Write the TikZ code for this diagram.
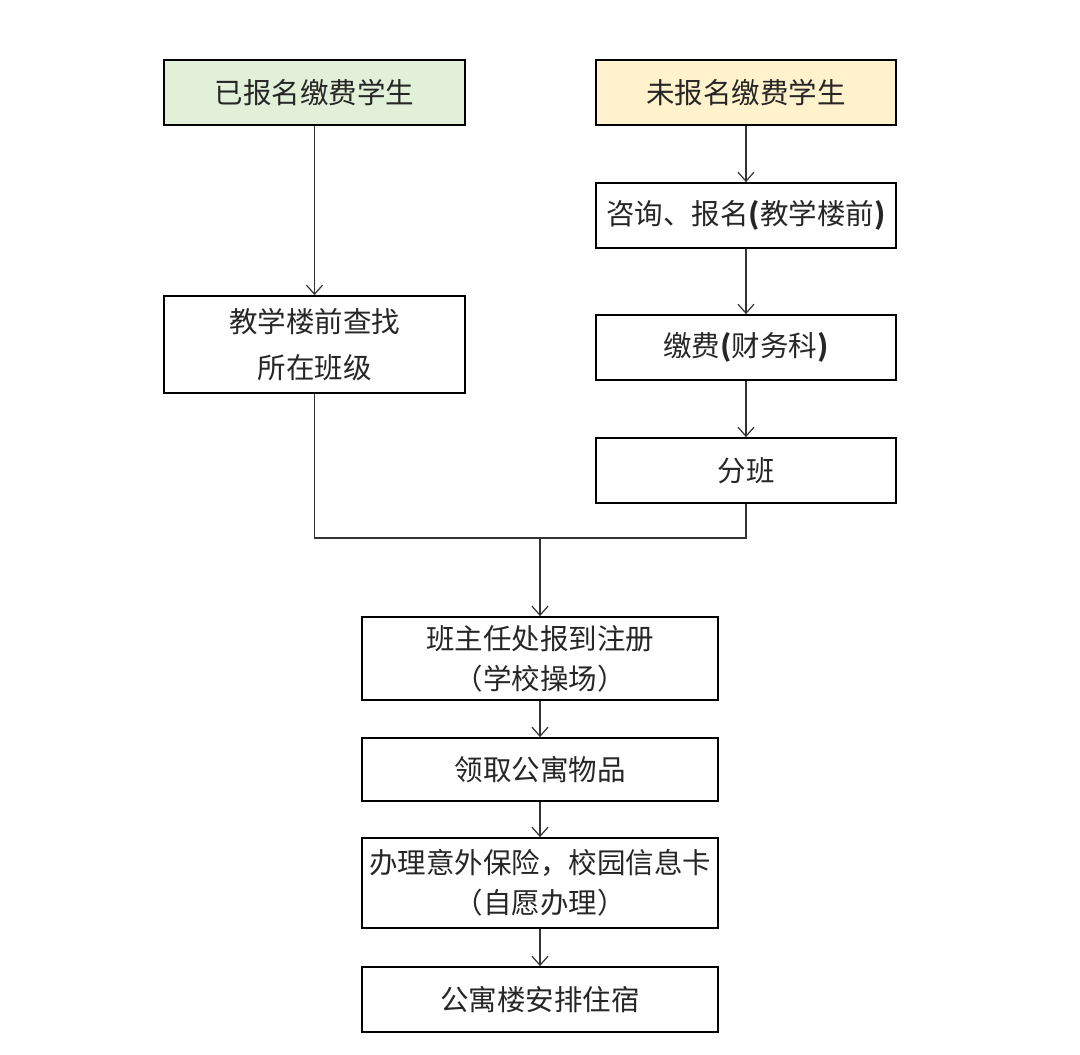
\documentclass[tikz,border=0pt]{standalone}
\usepackage{fontspec}
\setmainfont{Noto Sans CJK SC}
\usetikzlibrary{arrows.meta}
\definecolor{greenfill}{HTML}{E2EFD9}
\definecolor{yellowfill}{HTML}{FFF2CC}
\begin{document}
\begin{tikzpicture}[x=1pt,y=1pt,
  box/.style={draw=black,line width=1.8pt,inner sep=0pt,align=center,font=\fontsize{28.5}{40}\selectfont,text=black!85},
  conn/.style={line width=1.2pt,draw=black!80,-{Straight Barb[length=9pt,width=16pt,line width=1.2pt]}},
  plain/.style={line width=1.2pt,draw=black!80}]
\useasboundingbox (0,0) rectangle (1080,-1055);
% top boxes
\node[box,fill=greenfill,minimum width=301pt,minimum height=65pt] (A) at (314.5,-92.5) {已报名缴费学生};
\node[box,fill=yellowfill,minimum width=300pt,minimum height=65pt] (B) at (746,-92.5) {未报名缴费学生};
\node[box,minimum width=300pt,minimum height=65pt] (C) at (746,-215.5) {咨询、报名\textbf{(}教学楼前\textbf{)}};
\node[box,minimum width=300pt,minimum height=65pt] (D) at (746,-347.5) {缴费\textbf{(}财务科\textbf{)}};
\node[box,minimum width=300pt,minimum height=65pt] (E) at (746,-470.5) {分班};
\node[box,minimum width=301pt,minimum height=97pt,font=\fontsize{28.5}{46}\selectfont] (F) at (314.5,-344.5) {教学楼前查找\\所在班级};
\node[box,minimum width=356pt,minimum height=83pt] (G) at (540,-658.5) {班主任处报到注册\\（学校操场）};
\node[box,minimum width=356pt,minimum height=63pt] (H) at (540,-769.5) {领取公寓物品};
\node[box,minimum width=356pt,minimum height=90pt] (I) at (540,-883) {办理意外保险，校园信息卡\\（自愿办理）};
\node[box,minimum width=356pt,minimum height=65pt] (J) at (540,-999.5) {公寓楼安排住宿};
\coordinate (M) at (540,-538);
% connectors
\draw[conn] (A) -- (F);
\draw[conn] (B) -- (C);
\draw[conn] (C) -- (D);
\draw[conn] (D) -- (E);
\draw[plain] (F.south) |- (M);
\draw[plain] (E.south) |- (M);
\draw[conn] (M) -- (G);
\draw[conn] (G) -- (H);
\draw[conn] (H) -- (I);
\draw[conn] (I) -- (J);
\end{tikzpicture}
\end{document}
